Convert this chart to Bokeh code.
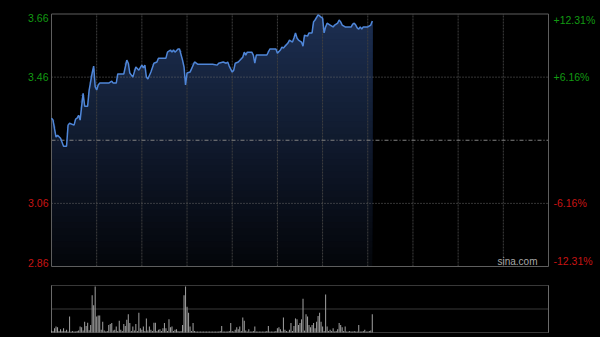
import numpy as np
from bokeh.plotting import figure
from bokeh.models import Range1d
from bokeh.embed import file_html
from bokeh.resources import INLINE

# ---- data (minutes since 9:30 open, HK session = 330 trading minutes) ----
minutes = [0, 1, 3, 4, 6, 8, 10, 11, 12, 15, 16, 17, 18, 19, 21, 22, 24, 25, 27, 28,
           29, 30, 31, 32, 38, 40, 41, 43, 44, 48, 50, 51, 52, 54, 56, 58, 60, 61, 62, 63,
           64, 66, 68, 70, 71, 76, 77, 79, 80, 81, 82, 84, 85, 87, 88, 89, 90, 92, 95, 97,
           107, 110, 111, 114, 116, 117, 118, 120, 121, 122, 124, 127, 128, 129, 130, 133, 134, 135, 136, 143,
           145, 149, 150, 152, 153, 154, 157, 158, 160, 161, 162, 163, 164, 166, 167, 168, 170, 171, 173, 174,
           175, 177, 178, 179, 180, 181, 182, 183, 185, 187, 188, 190, 191, 192, 193, 195, 199, 200, 201, 202,
           203, 204, 205, 206, 207, 210, 212, 213]
prices = [3.330, 3.324, 3.270, 3.276, 3.266, 3.241, 3.241, 3.308, 3.314, 3.308, 3.327, 3.330, 3.339, 3.324, 3.409, 3.368, 3.368, 3.419, 3.473, 3.495,
          3.430, 3.419, 3.435, 3.441, 3.441, 3.447, 3.441, 3.441, 3.470, 3.470, 3.514, 3.504, 3.473, 3.460, 3.492, 3.482, 3.498, 3.489, 3.498, 3.460,
          3.454, 3.476, 3.504, 3.508, 3.520, 3.520, 3.539, 3.546, 3.539, 3.546, 3.539, 3.549, 3.549, 3.514, 3.492, 3.435, 3.473, 3.476, 3.508, 3.501,
          3.501, 3.498, 3.504, 3.508, 3.504, 3.508, 3.495, 3.476, 3.482, 3.504, 3.508, 3.523, 3.539, 3.530, 3.539, 3.539, 3.530, 3.504, 3.530, 3.530,
          3.549, 3.549, 3.536, 3.546, 3.555, 3.552, 3.568, 3.577, 3.571, 3.584, 3.600, 3.584, 3.577, 3.571, 3.558, 3.593, 3.590, 3.600, 3.600, 3.635,
          3.641, 3.657, 3.654, 3.650, 3.647, 3.600, 3.619, 3.631, 3.625, 3.619, 3.625, 3.631, 3.641, 3.635, 3.625, 3.619, 3.619, 3.628, 3.631, 3.625,
          3.616, 3.612, 3.619, 3.612, 3.619, 3.619, 3.625, 3.638]

volume = [4, 3, 9, 13, 11, 3, 7, 3, 9, 3,
          6, 2, 34, 2, 3, 2, 2, 3, 4, 13,
          11, 4, 23, 14, 21, 5, 16, 79, 58, 98,
          34, 36, 36, 6, 23, 4, 2, 3, 16, 18,
          20, 4, 6, 13, 3, 25, 6, 3, 18, 14,
          27, 39, 20, 3, 13, 4, 18, 3, 42, 9,
          6, 13, 3, 30, 4, 13, 6, 3, 21, 21,
          3, 6, 7, 3, 9, 20, 9, 3, 28, 11,
          13, 3, 6, 7, 3, 2, 3, 16, 79, 98,
          55, 42, 13, 3, 20, 3, 2, 2, 2, 2,
          2, 2, 2, 2, 2, 2, 2, 2, 2, 2,
          2, 2, 3, 14, 2, 2, 2, 2, 3, 20,
          3, 2, 6, 11, 7, 13, 3, 32, 25, 4,
          2, 7, 2, 2, 3, 13, 2, 2, 2, 2,
          2, 2, 2, 3, 14, 2, 2, 2, 2, 3,
          9, 11, 7, 3, 32, 6, 3, 2, 6, 20,
          3, 14, 30, 28, 16, 20, 28, 72, 4, 39,
          34, 16, 11, 16, 20, 9, 23, 35, 42, 23,
          13, 3, 81, 13, 3, 6, 3, 9, 2, 3,
          7, 20, 16, 11, 3, 13, 2, 2, 3, 2,
          2, 3, 2, 2, 16, 2, 2, 3, 6, 2,
          2, 3, 4, 39]
vol_minutes = list(range(len(volume)))

prev_close = 3.26
price_min, price_max = 2.86, 3.66
session_minutes = 330
price_ticks = [3.66, 3.46, 3.06, 2.86]
price_labels = ["3.66", "3.46", "3.06", "2.86"]
pct_labels = ["+12.31%", "+6.16%", "-6.16%", "-12.31%"]
label_colors = ["#129a12", "#129a12", "#c81414", "#c81414"]
label_baselines = ["top", "middle", "middle", "bottom"]
grid_prices = [3.46, 3.06]
time_grid = [30, 60, 90, 120, 150, 180, 210, 240, 270, 300]
vol_max = 100
vol_grid = [0, 50, 100]

FONT = "Liberation Sans"
W, H = 600, 337
# pixel layout of the two panels inside one canvas
PX_L, PX_R = 51, 548          # left / right edge of both panels
PX_PT, PX_PB = 13.5, 266      # price panel: y of price_max / price_min
PX_VT, PX_VB = 285, 332       # volume panel: y of vol_max / 0

xs = session_minutes / (PX_R - PX_L)
ps = (price_max - price_min) / (PX_PB - PX_PT)
vs = vol_max / (PX_VB - PX_VT)

p = figure(width=W, height=H,
           x_range=Range1d(-PX_L * xs, session_minutes + (W - PX_R) * xs),
           y_range=Range1d(price_min - (H - PX_PB) * ps, price_max + PX_PT * ps),
           x_axis_location=None, y_axis_location=None, toolbar_location=None,
           output_backend="svg", min_border=0,
           background_fill_color="black", border_fill_color="black",
           outline_line_color=None)
p.extra_y_ranges = {"vol": Range1d(-(H - PX_VB) * vs, vol_max + PX_VT * vs)}
p.grid.visible = False

# gradient fill under the line: stacked layers, each from its level up to the price
pr = np.array(prices)
n_layers = 40
levels = np.linspace(price_min, price_max, n_layers + 1)[:-1]
top_rgb = np.array([0x1d, 0x2f, 0x52])
bot_rgb = np.array([0x04, 0x06, 0x0a])
for k, lv in enumerate(levels):
    t = (k + 0.5) / n_layers
    c = (bot_rgb + (top_rgb - bot_rgb) * t).astype(int)
    col = "#%02x%02x%02x" % tuple(c)
    p.varea(x=minutes, y1=np.full(len(pr), lv), y2=np.maximum(pr, lv),
            fill_color=col, fill_alpha=1.0)

# grid lines
p.segment(x0=time_grid, y0=[price_min] * len(time_grid), x1=time_grid,
          y1=[price_max] * len(time_grid), line_color="#3f3f3f", line_width=1,
          line_dash="2 1")
p.segment(x0=[0] * len(grid_prices), y0=grid_prices, x1=[session_minutes] * len(grid_prices),
          y1=grid_prices, line_color="#6a6a6a", line_width=1, line_dash="1 2")
p.segment(x0=[0], y0=[prev_close], x1=[session_minutes], y1=[prev_close],
          line_color="#808080", line_width=1, line_dash="4 2 1 2")

# price panel border
p.quad(left=[0], right=[session_minutes], bottom=[price_min], top=[price_max],
       fill_color=None, line_color="#5e5e5e", line_width=1)

# price line
p.line(minutes, prices, line_color="#4f86d8", line_width=1.5)

for tick, lab, pct, col, bl in zip(price_ticks, price_labels, pct_labels,
                                   label_colors, label_baselines):
    p.text(x=[0], y=[tick], text=[lab], x_offset=-3, text_align="right",
           text_baseline=bl, text_color=col, text_font_size="10.5px",
           text_font={"value": FONT})
    p.text(x=[session_minutes], y=[tick], text=[pct], x_offset=5,
           text_align="left", text_baseline=bl, text_color=col,
           text_font_size="10.5px", text_font={"value": FONT})

p.text(x=[session_minutes], y=[price_min], text=["sina.com"], x_offset=-11,
       text_align="right", text_baseline="bottom", text_color="#a8a8a8",
       text_font_size="10px", text_font={"value": FONT})

# ---- volume panel ----
p.segment(x0=[0] * len(vol_grid), y0=vol_grid, x1=[session_minutes] * len(vol_grid),
          y1=vol_grid, line_color="#707070", line_width=1, line_dash="1 1",
          y_range_name="vol")
p.segment(x0=[0, session_minutes], y0=[0, 0], x1=[0, session_minutes],
          y1=[vol_max, vol_max], line_color="#6a6a6a", line_width=1,
          y_range_name="vol")
p.vbar(x=vol_minutes, top=volume, bottom=0, width=0.7, fill_color="#9a9a9a",
       line_color=None, y_range_name="vol")

html = file_html(p, INLINE)
html = html.replace("<head>", "<head><style>html,body{margin:0;background:#000;}</style>", 1)
open("out.html", "w").write(html)
